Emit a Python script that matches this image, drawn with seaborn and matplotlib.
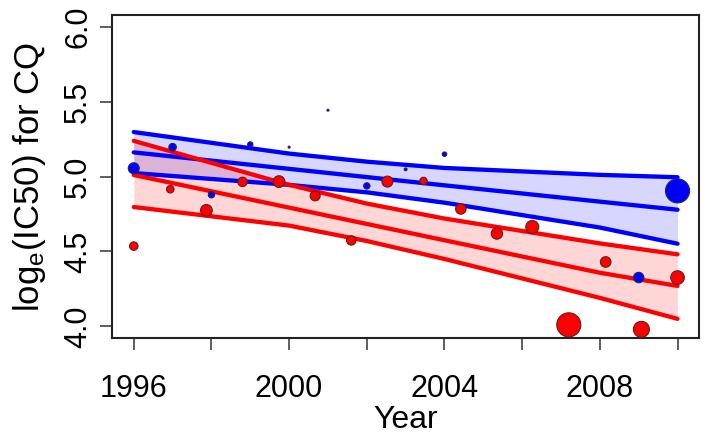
import seaborn as sns
import matplotlib.pyplot as plt
import pandas as pd

# isolate-level points (year, log IC50, sample weight)
red_year = [1996.0, 1996.94, 1997.87, 1998.8, 1999.74, 2000.67, 2001.6, 2002.53,
            2003.46, 2004.42, 2005.35, 2006.26, 2007.2, 2008.15, 2009.07, 2010.0]
red_val = [4.536, 4.916, 4.775, 4.965, 4.967, 4.872, 4.574, 4.967,
           4.971, 4.784, 4.62, 4.664, 4.01, 4.43, 3.98, 4.326]
red_n = [18, 14, 34, 22, 34, 25, 22, 30, 14, 27, 32, 42, 144, 28, 64, 46]

blue_year = [1996, 1997, 1998, 1999, 2000, 2001, 2002, 2003, 2004, 2009, 2010]
blue_val = [5.056, 5.197, 4.879, 5.215, 5.197, 5.444, 4.938, 5.049, 5.15, 4.326, 4.905]
blue_n = [30, 14, 10, 7, 1, 1, 10, 2, 5, 27, 144]

# fitted trends with confidence bands, read at a few years
fit_year = [1996, 2000, 2002, 2004, 2008, 2010]
blue_fit = [5.162, 5.052, 4.997, 4.942, 4.833, 4.779]
blue_hi = [5.298, 5.154, 5.10, 5.058, 5.012, 4.996]
blue_lo = [5.024, 4.945, 4.895, 4.826, 4.66, 4.552]
red_fit = [5.011, 4.793, 4.684, 4.575, 4.358, 4.27]
red_hi = [5.239, 4.945, 4.82, 4.72, 4.554, 4.481]
red_lo = [4.797, 4.673, 4.57, 4.45, 4.19, 4.05]

sns.set_style("white")
plt.rcParams['font.family'] = ['Liberation Sans', 'DejaVu Sans']
plt.rcParams['mathtext.fontset'] = 'custom'
plt.rcParams['mathtext.rm'] = 'Liberation Sans'
plt.rcParams['mathtext.it'] = 'Liberation Sans'
plt.rcParams['text.color'] = 'black'
plt.rcParams['axes.labelcolor'] = 'black'

fig = plt.figure(figsize=(7.08, 4.38), dpi=100)
ax = fig.add_axes([0.1582, 0.2276, 0.8295, 0.7382])

ax.fill_between(fit_year, blue_lo, blue_hi, color=(0, 0, 1), alpha=0.16, lw=0)
ax.fill_between(fit_year, red_lo, red_hi, color=(1, 0, 0), alpha=0.16, lw=0)

for vals in (blue_hi, blue_fit, blue_lo):
    sns.lineplot(x=fit_year, y=vals, color='#0000ff', lw=3.1, ax=ax)
for vals in (red_hi, red_fit, red_lo):
    sns.lineplot(x=fit_year, y=vals, color='#ff0000', lw=3.1, ax=ax)

red_df = pd.DataFrame({'year': red_year, 'val': red_val, 'n': red_n})
blue_df = pd.DataFrame({'year': blue_year, 'val': blue_val, 'n': blue_n})
for df, col, ec in ((blue_df, '#0000ff', '#24245e'), (red_df, '#ff0000', '#5e2020')):
    sns.scatterplot(data=df, x='year', y='val', size='n', sizes=(0, 300),
                    size_norm=(0, 144), color=col, edgecolor=ec, linewidth=0.8,
                    legend=False, ax=ax, zorder=5)

ax.set_xlim(1995.44, 2010.56)
ax.set_ylim(3.92, 6.08)
ax.set_xticks(range(1996, 2011, 2))
ax.set_xticklabels([str(y) if (y - 1996) % 4 == 0 else '' for y in range(1996, 2011, 2)])
ax.set_yticks([4.0, 4.5, 5.0, 5.5, 6.0])
ax.set_yticklabels(['4.0', '4.5', '5.0', '5.5', '6.0'], rotation=90, va='center')

ax.tick_params(axis='both', direction='out', length=8.6, width=1.1, color='#333333',
               labelcolor='black', labelsize=22, bottom=True, left=True)
ax.tick_params(axis='x', pad=17)
ax.tick_params(axis='y', pad=5)
for s in ax.spines.values():
    s.set_color('#222222')
    s.set_linewidth(1.5)

ax.set_xlabel('Year', fontsize=23, labelpad=1)
ax.set_ylabel('log$_\\mathregular{e}$(IC50) for CQ', fontsize=25, labelpad=11)

fig.savefig('out.png', dpi=100)
